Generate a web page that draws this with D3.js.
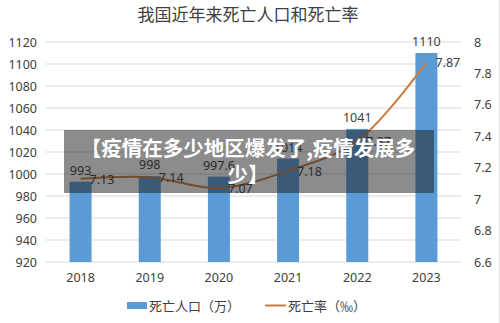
<!DOCTYPE html>
<html>
<head>
<meta charset="utf-8">
<script src="https://cdn.jsdelivr.net/npm/d3@7"></script>
<style>
  html, body { margin: 0; padding: 0; background: #fff; }
  svg { display: block; font-family: "Noto Sans CJK SC", "Noto Sans", sans-serif; }
</style>
</head>
<body>
<svg id="chart" width="500" height="323"></svg>
<script>
// Deaths (10k people) and death rate (per mille), 2018–2023
const years = ["2018", "2019", "2020", "2021", "2022", "2023"];
const deaths = [993, 998, 997.6, 1014, 1041, 1110];
const rates = [7.13, 7.14, 7.07, 7.18, 7.37, 7.87];
const leftTicks = [920, 940, 960, 980, 1000, 1020, 1040, 1060, 1080, 1100, 1120];
const rightTicks = [6.6, 6.8, 7, 7.2, 7.4, 7.6, 7.8, 8];
const title = "我国近年来死亡人口和死亡率";
const bannerLines = ["【疫情在多少地区爆发了,疫情发展多", "少】"];
const legendLabels = ["死亡人口（万）", "死亡率（‰）"];

const barColor = "#5b9bd5";
const lineColor = "#c67c43";
const textColor = "#404040";

const svg = d3.select("#chart");
const margin = { left: 46, right: 39, top: 42, bottom: 61 };
const W = 500, H = 323;
const plotL = margin.left, plotR = W - margin.right;
const plotT = margin.top, plotB = H - margin.bottom;

const x = d3.scaleBand().domain(years).range([plotL, plotR]);
const yL = d3.scaleLinear().domain([920, 1120]).range([plotB, plotT]);
const yR = d3.scaleLinear().domain([6.6, 8]).range([plotB, plotT]);

// Title
svg.append("text")
  .attr("x", 248).attr("y", 21)
  .attr("text-anchor", "middle")
  .attr("font-size", 17)
  .attr("fill", textColor)
  .text(title);

// Gridlines
svg.append("g")
  .selectAll("line")
  .data(leftTicks)
  .join("line")
  .attr("x1", plotL).attr("x2", plotR)
  .attr("y1", d => yL(d)).attr("y2", d => yL(d))
  .attr("stroke", "#d9d9d9").attr("stroke-width", 1);

// Left axis
const leftAxis = svg.append("g")
  .attr("transform", `translate(${plotL - 9},0)`)
  .call(d3.axisLeft(yL).tickValues(leftTicks).tickSize(0).tickPadding(0).tickFormat(d3.format("d")));
leftAxis.select(".domain").remove();
leftAxis.selectAll("text").attr("font-size", 12.5).attr("fill", textColor)
  .attr("font-family", "'Noto Sans', sans-serif");

// Right axis
const rightAxis = svg.append("g")
  .attr("transform", `translate(${plotR + 13},0)`)
  .call(d3.axisRight(yR).tickValues(rightTicks).tickSize(0).tickPadding(0).tickFormat(d => String(d)));
rightAxis.select(".domain").remove();
rightAxis.selectAll("text").attr("font-size", 12.5).attr("fill", textColor)
  .attr("font-family", "'Noto Sans', sans-serif");

// Bottom axis
const bottomAxis = svg.append("g")
  .attr("transform", `translate(0,${plotB + 11})`)
  .call(d3.axisBottom(x).tickSize(0).tickPadding(0));
bottomAxis.select(".domain").remove();
bottomAxis.selectAll("text").attr("font-size", 12.5).attr("fill", textColor)
  .attr("font-family", "'Noto Sans', sans-serif");

// Bars
const barW = 22;
svg.append("g")
  .selectAll("rect")
  .data(years)
  .join("rect")
  .attr("x", (d) => x(d) + x.bandwidth() / 2 - barW / 2)
  .attr("width", barW)
  .attr("y", (d, i) => yL(deaths[i]))
  .attr("height", (d, i) => plotB - yL(deaths[i]))
  .attr("fill", barColor);

// Bar value labels
svg.append("g")
  .selectAll("text")
  .data(years)
  .join("text")
  .attr("x", (d) => x(d) + x.bandwidth() / 2)
  .attr("y", (d, i) => yL(deaths[i]) - 7)
  .attr("text-anchor", "middle")
  .attr("font-size", 12.5)
  .attr("fill", textColor)
  .attr("font-family", "'Noto Sans', sans-serif")
  .text((d, i) => String(deaths[i]));

// Death-rate line
const line = d3.line()
  .x((d, i) => x(years[i]) + x.bandwidth() / 2)
  .y(d => yR(d))
  .curve(d3.curveCatmullRom.alpha(0.5));
svg.append("path")
  .datum(rates)
  .attr("d", line)
  .attr("fill", "none")
  .attr("stroke", lineColor)
  .attr("stroke-width", 2);

// Rate labels
svg.append("g")
  .selectAll("text")
  .data(rates)
  .join("text")
  .attr("x", (d, i) => x(years[i]) + x.bandwidth() / 2 + 9)
  .attr("y", d => yR(d) + 5)
  .attr("font-size", 12.5)
  .attr("fill", textColor)
  .attr("font-family", "'Noto Sans', sans-serif")
  .text(d => d.toFixed(2));

// Legend
const legend = svg.append("g").attr("font-size", 13).attr("fill", textColor);
legend.append("rect").attr("x", 127).attr("y", 302).attr("width", 20).attr("height", 7).attr("fill", barColor);
legend.append("text").attr("x", 149).attr("y", 310.5).text(legendLabels[0]);
legend.append("line").attr("x1", 265).attr("x2", 286).attr("y1", 305.5).attr("y2", 305.5)
  .attr("stroke", lineColor).attr("stroke-width", 2);
legend.append("text").attr("x", 288).attr("y", 310.5).text(legendLabels[1]);

// Headline banner
const banner = svg.append("g");
banner.append("rect")
  .attr("x", 64).attr("y", 130).attr("width", 370).attr("height", 63)
  .attr("fill", "rgba(25,25,25,0.5)");
banner.selectAll("text")
  .data(bannerLines)
  .join("text")
  .attr("x", 248)
  .attr("y", (d, i) => 156 + i * 26)
  .attr("text-anchor", "middle")
  .attr("font-size", 20.5)
  .attr("font-weight", "bold")
  .attr("fill", "#fff")
  .text(d => d);

// Right edge rule
svg.append("line").attr("x1", 499.5).attr("x2", 499.5).attr("y1", 0).attr("y2", H)
  .attr("stroke", "#e0e0e0");
</script>
</body>
</html>
